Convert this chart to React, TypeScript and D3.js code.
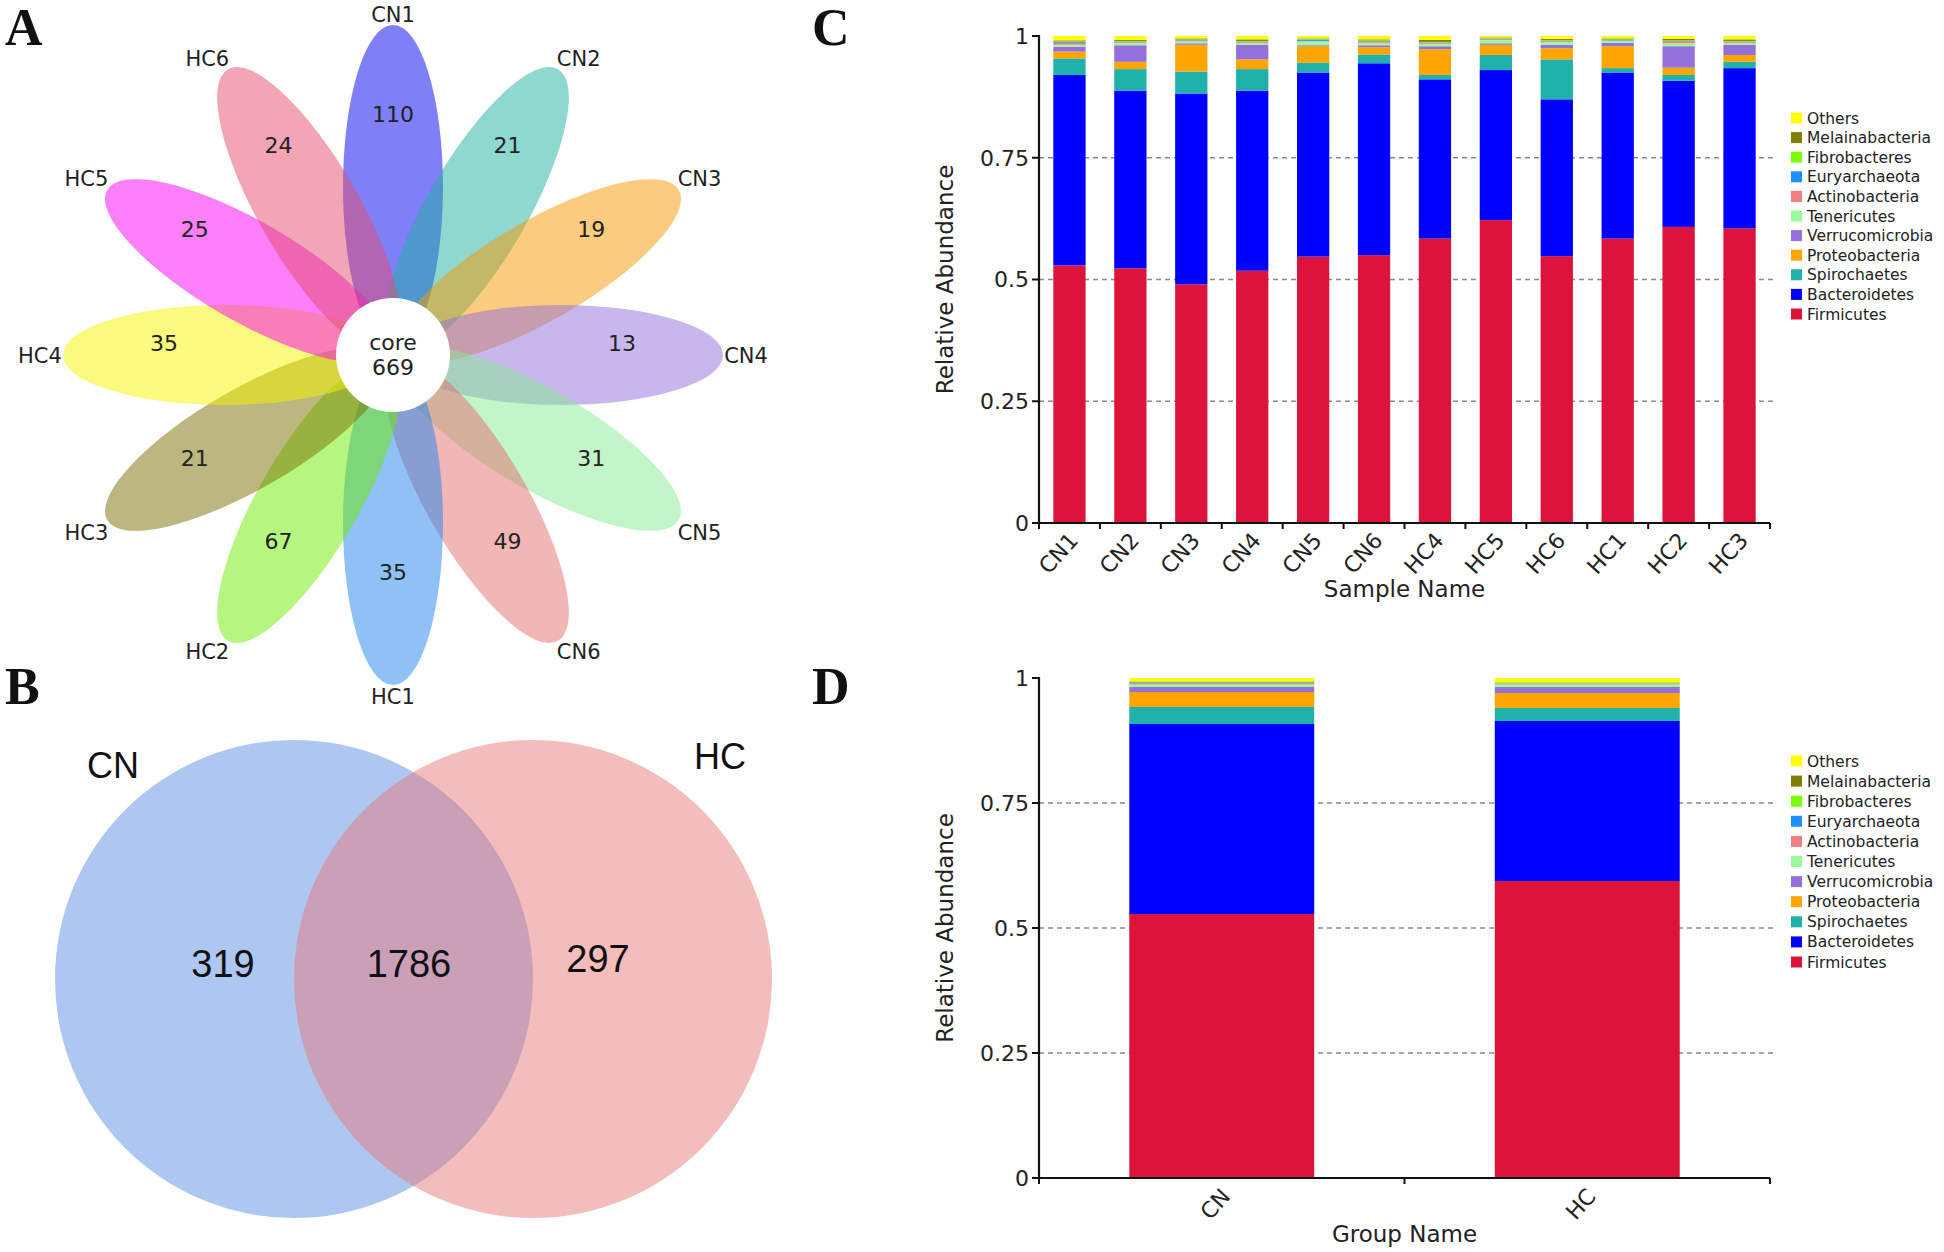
import React from 'react';
import * as d3 from 'd3';

// ---------- Panel A: flower plot ----------
const flowerSamples = ['CN1', 'CN2', 'CN3', 'CN4', 'CN5', 'CN6', 'HC1', 'HC2', 'HC3', 'HC4', 'HC5', 'HC6'];
const flowerCounts = [110, 21, 19, 13, 31, 49, 35, 67, 21, 35, 25, 24];
const flowerColors = ['#0000F2', '#1FB1A1', '#F79700', '#916FD9', '#85EB91', '#E36D6D', '#1F83EB', '#6DEB00', '#776F00', '#F5F500', '#F500F1', '#E54B69'];
const coreCount = 669;

// ---------- Panel B: Venn ----------
const vennSets = ['CN', 'HC'];
const vennColors = ['#5589E1', '#E97575'];
const vennOnly = [319, 297];
const vennShared = 1786;

// ---------- Panels C & D: stacked relative abundance ----------
const phyla = ['Firmicutes', 'Bacteroidetes', 'Spirochaetes', 'Proteobacteria', 'Verrucomicrobia', 'Tenericutes', 'Actinobacteria', 'Euryarchaeota', 'Fibrobacteres', 'Melainabacteria', 'Others'];
const phylaColors = ['#DC143C', '#0000FF', '#20B2AA', '#FFA500', '#9370DB', '#98FB98', '#F08080', '#1E90FF', '#7CFC00', '#7F7F00', '#FFFF00'];

const samples = ['CN1', 'CN2', 'CN3', 'CN4', 'CN5', 'CN6', 'HC4', 'HC5', 'HC6', 'HC1', 'HC2', 'HC3'];
const firmicutes = [0.529, 0.523, 0.490, 0.518, 0.547, 0.550, 0.584, 0.622, 0.548, 0.584, 0.608, 0.605];
const bacteroidetes = [0.391, 0.365, 0.392, 0.370, 0.378, 0.394, 0.327, 0.308, 0.322, 0.341, 0.300, 0.329];
const spirochaetes = [0.034, 0.044, 0.045, 0.044, 0.020, 0.018, 0.009, 0.031, 0.082, 0.009, 0.012, 0.013];
const proteobacteria = [0.014, 0.015, 0.055, 0.020, 0.034, 0.015, 0.053, 0.021, 0.023, 0.045, 0.015, 0.014];
const verrucomicrobia = [0.010, 0.034, 0.003, 0.030, 0.002, 0.004, 0.006, 0.003, 0.007, 0.007, 0.044, 0.021];
const tenericutes = [0.004, 0.005, 0.004, 0.004, 0.008, 0.005, 0.005, 0.007, 0.006, 0.004, 0.006, 0.004];
const actinobacteria = [0.004, 0.002, 0.002, 0.002, 0.001, 0.003, 0.002, 0.002, 0.002, 0.001, 0.004, 0.002];
const euryarchaeota = [0.002, 0.001, 0.001, 0.001, 0.003, 0.001, 0.001, 0.001, 0.001, 0.001, 0.001, 0.001];
const fibrobacteres = [0.001, 0.001, 0.001, 0.001, 0.001, 0.001, 0.001, 0.001, 0.001, 0.001, 0.001, 0.001];
const melainabacteria = [0.002, 0.002, 0.002, 0.003, 0.001, 0.002, 0.004, 0.001, 0.002, 0.002, 0.003, 0.003];
const others = [0.009, 0.008, 0.005, 0.007, 0.005, 0.007, 0.008, 0.003, 0.006, 0.005, 0.006, 0.007];

const groups = ['CN', 'HC'];
const gFirmicutes = [0.528, 0.594];
const gBacteroidetes = [0.380, 0.320];
const gSpirochaetes = [0.034, 0.026];
const gProteobacteria = [0.030, 0.030];
const gVerrucomicrobia = [0.010, 0.012];
const gTenericutes = [0.005, 0.005];
const gActinobacteria = [0.002, 0.001];
const gEuryarchaeota = [0.001, 0.001];
const gFibrobacteres = [0.001, 0.001];
const gMelainabacteria = [0.002, 0.001];
const gOthers = [0.007, 0.009];

const yTicks = [0, 0.25, 0.5, 0.75, 1];
const yTickLabels = ['0', '0.25', '0.5', '0.75', '1'];

const sampleSeries = [firmicutes, bacteroidetes, spirochaetes, proteobacteria, verrucomicrobia, tenericutes, actinobacteria, euryarchaeota, fibrobacteres, melainabacteria, others];
const groupSeries = [gFirmicutes, gBacteroidetes, gSpirochaetes, gProteobacteria, gVerrucomicrobia, gTenericutes, gActinobacteria, gEuryarchaeota, gFibrobacteres, gMelainabacteria, gOthers];

const SANS = 'DejaVu Sans, Verdana, sans-serif';

function buildRows(names: string[], series: number[][]) {
  return names.map((n, i) => {
    const row: any = { name: n };
    phyla.forEach((p, k) => { row[p] = series[k][i]; });
    return row;
  });
}

function StackPanel(props: {
  names: string[]; series: number[][]; top: number; bottom: number;
  xTitle: string; titleOffset: number; labelOffset: number; legendTop: number; legendStep: number; barFrac: number; labelRot: number;
}) {
  const { names, series, top, bottom, xTitle, titleOffset, labelOffset, legendTop, legendStep, barFrac, labelRot } = props;
  const left = 1039, right = 1770;
  const y = d3.scaleLinear().domain([0, 1]).range([bottom, top]);
  const outer = (1 - barFrac) / 2;
  const x = d3.scaleBand<string>().domain(names).range([left, right]).paddingInner(1 - barFrac).paddingOuter(outer);
  const step = x.step();
  const rows = buildRows(names, series);
  const stacked = d3.stack<any>().keys(phyla)(rows);
  const boundaries = d3.range(names.length + 1).map(i => left + i * step);
  const midY = (top + bottom) / 2;
  return (
    <g>
      {yTicks.filter(t => t > 0 && t < 1).map(t => (
        <line key={'g' + t} x1={left} x2={right + 4} y1={y(t)} y2={y(t)} stroke="#8a8a8a" strokeWidth={1.6} strokeDasharray="5,4" />
      ))}
      {stacked.map((layer, k) => (
        <g key={layer.key} fill={phylaColors[k]}>
          {layer.map((d, i) => (
            <rect key={i} x={x(names[i])} width={x.bandwidth()} y={y(d[1])} height={Math.max(0, y(d[0]) - y(d[1]))} />
          ))}
        </g>
      ))}
      <line x1={left} x2={left} y1={top - 1} y2={bottom + 1} stroke="#111" strokeWidth={2.2} />
      <line x1={left - 1} x2={right} y1={bottom} y2={bottom} stroke="#111" strokeWidth={2.2} />
      {yTicks.map((t, i) => (
        <g key={'yt' + i}>
          <line x1={left - 7} x2={left} y1={y(t)} y2={y(t)} stroke="#111" strokeWidth={2} />
          <text x={left - 10} y={y(t)} dy="0.36em" textAnchor="end" fontSize={22} fontFamily={SANS} fill="#222">{yTickLabels[i]}</text>
        </g>
      ))}
      {boundaries.map((bx, i) => (
        <line key={'xt' + i} x1={bx} x2={bx} y1={bottom} y2={bottom + 6} stroke="#111" strokeWidth={2} />
      ))}
      {names.map(n => (
        <text key={'xl' + n} transform={`translate(${(x(n) as number) + x.bandwidth() / 2 + 4},${bottom + labelOffset}) rotate(${labelRot})`}
          textAnchor="end" dy="0.36em" fontSize={22} fontFamily={SANS} fill="#222">{n}</text>
      ))}
      <text x={(left + right) / 2} y={bottom + titleOffset} textAnchor="middle" fontSize={23} fontFamily={SANS} fill="#222">{xTitle}</text>
      <text transform={`translate(945,${midY}) rotate(-90)`} textAnchor="middle" dy="0.36em" fontSize={23} fontFamily={SANS} fill="#222">Relative Abundance</text>
      {phyla.slice().reverse().map((p, i) => {
        const k = phyla.length - 1 - i;
        const ly = legendTop + i * legendStep;
        return (
          <g key={'lg' + p}>
            <rect x={1791} y={ly - 5.5} width={11} height={11} fill={phylaColors[k]} />
            <text x={1807} y={ly} dy="0.36em" fontSize={15.5} fontFamily={SANS} fill="#222">{p}</text>
          </g>
        );
      })}
    </g>
  );
}

function Flower() {
  const cx = 393, cy = 355;
  const petalDist = 168, petalA = 162, petalB = 50;
  const angle = d3.scaleLinear().domain([0, flowerSamples.length]).range([0, 360]);
  return (
    <g>
      {flowerSamples.map((s, i) => (
        <ellipse key={'p' + s} cx={0} cy={-petalDist} rx={petalB} ry={petalA}
          transform={`translate(${cx},${cy}) rotate(${angle(i)})`} fill={flowerColors[i]} fillOpacity={0.5} />
      ))}
      <circle cx={cx} cy={cy} r={57} fill="#fff" />
      {flowerSamples.map((s, i) => {
        const th = (angle(i) * Math.PI) / 180;
        const rl = 229;
        const shift = (1.2 * Math.sin(2 * th) + 1.2 * Math.sin(4 * th)) * Math.PI / 180;
        const ths = th + shift;
        const rs = 341 + 12 * Math.abs(Math.sin(th)) + 3 * Math.abs(Math.sin(2 * th));
        return (
          <g key={'l' + s}>
            <text x={cx + rl * Math.sin(th)} y={cy - rl * Math.cos(th) - 4} textAnchor="middle" fontSize={22} fontFamily={SANS} fill="#222">{flowerCounts[i]}</text>
            <text x={cx + rs * Math.sin(ths)} y={cy - rs * Math.cos(ths)} dy="0.36em" textAnchor="middle" fontSize={21} fontFamily={SANS} fill="#222">{s}</text>
          </g>
        );
      })}
      <text x={cx} y={342} dy="0.36em" textAnchor="middle" fontSize={22} fontFamily={SANS} fill="#222">core</text>
      <text x={cx} y={367} dy="0.36em" textAnchor="middle" fontSize={22} fontFamily={SANS} fill="#222">{coreCount}</text>
    </g>
  );
}

function Venn() {
  const cy = 979, r = 239;
  const xs = [294, 533];
  const ARIAL = 'Liberation Sans, Arial, sans-serif';
  return (
    <g>
      {vennSets.map((s, i) => (
        <circle key={s} cx={xs[i]} cy={cy} r={r} fill={vennColors[i]} fillOpacity={0.48} />
      ))}
      <text x={113} y={765} dy="0.36em" textAnchor="middle" fontSize={36} fontFamily={ARIAL} fill="#111">{vennSets[0]}</text>
      <text x={720} y={756} dy="0.36em" textAnchor="middle" fontSize={36} fontFamily={ARIAL} fill="#111">{vennSets[1]}</text>
      <text x={223} y={963} dy="0.36em" textAnchor="middle" fontSize={38} fontFamily={ARIAL} fill="#111">{vennOnly[0]}</text>
      <text x={409} y={963} dy="0.36em" textAnchor="middle" fontSize={38} fontFamily={ARIAL} fill="#111">{vennShared}</text>
      <text x={598} y={958} dy="0.36em" textAnchor="middle" fontSize={38} fontFamily={ARIAL} fill="#111">{vennOnly[1]}</text>
    </g>
  );
}

export default function App() {
  const SERIF = 'Liberation Serif, Times New Roman, serif';
  return (
    <svg width={1944} height={1252} viewBox="0 0 1944 1252"
      style={{ position: 'absolute', left: 0, top: 0, background: '#fff' }}>
      <rect width={1944} height={1252} fill="#fff" />
      <Flower />
      <Venn />
      <StackPanel names={samples} series={sampleSeries} top={36} bottom={523} xTitle="Sample Name" titleOffset={74} labelOffset={13}
        legendTop={118} legendStep={19.6} barFrac={0.53} labelRot={-48} />
      <StackPanel names={groups} series={groupSeries} top={678} bottom={1178} xTitle="Group Name" titleOffset={64} labelOffset={14}
        legendTop={761} legendStep={20.1} barFrac={0.506} labelRot={-48} />
      <text x={5} y={45} fontSize={52} fontWeight="bold" fontFamily={SERIF} fill="#111">A</text>
      <text x={5} y={704} fontSize={52} fontWeight="bold" fontFamily={SERIF} fill="#111">B</text>
      <text x={812} y={45} fontSize={52} fontWeight="bold" fontFamily={SERIF} fill="#111">C</text>
      <text x={812} y={704} fontSize={52} fontWeight="bold" fontFamily={SERIF} fill="#111">D</text>
    </svg>
  );
}
